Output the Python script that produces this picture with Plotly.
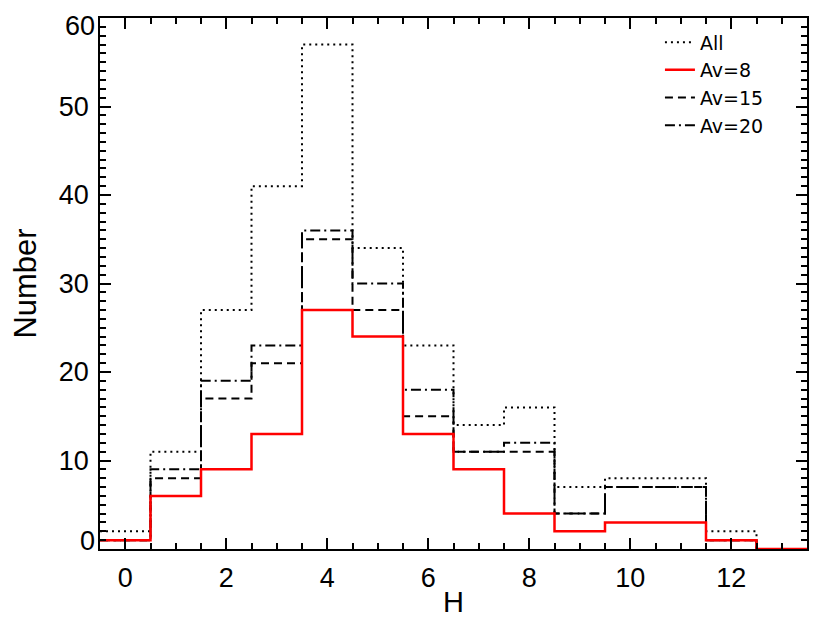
import plotly.graph_objects as go

# H bin centres (bin width 1)
h_bins = list(range(14))
all_counts = [2, 11, 27, 41, 57, 34, 23, 14, 16, 7, 8, 8, 2, 0]
av8_counts = [1, 6, 9, 13, 27, 24, 13, 9, 4, 2, 3, 3, 1, 0]
av15_counts = [1, 8, 17, 21, 35, 27, 15, 11, 11, 4, 7, 7, 1, 0]
av20_counts = [1, 9, 19, 23, 36, 30, 18, 11, 12, 4, 7, 7, 1, 0]
bin_width = 1.0

x_tick_vals = [0, 2, 4, 6, 8, 10, 12]
y_tick_vals = [0, 10, 20, 30, 40, 50, 60]
y_range = [0, 60]


def step_xy(centres, counts, width):
    edges = [c - width / 2 for c in centres] + [centres[-1] + width / 2]
    ys = list(counts) + [counts[-1]]
    return edges, ys


fig = go.Figure()

series = [
    ("All", all_counts, dict(color="black", width=2, dash="2px,4px"), 1),
    ("Av=20", av20_counts, dict(color="black", width=2, dash="10px,4px,2px,4px"), 4),
    ("Av=15", av15_counts, dict(color="black", width=2, dash="8px,5px"), 3),
    ("Av=8", av8_counts, dict(color="#ff0000", width=2.5), 2),
]
for name, counts, line, rank in series:
    xs, ys = step_xy(h_bins, counts, bin_width)
    fig.add_trace(go.Scatter(x=xs, y=ys, mode="lines", line_shape="hv",
                             name=name, line=line, legendrank=rank))

# empty helper traces so the label-only overlay axes get drawn
for ax in ("y2", "y3"):
    fig.add_trace(go.Scatter(x=[], y=[], yaxis=ax, showlegend=False,
                             hoverinfo="skip", mode="lines"))

tick_font = dict(family="Liberation Sans, Arial, sans-serif", size=27, color="black")
xtitle_font = dict(family="Liberation Sans, Arial, sans-serif", size=29, color="black")
ytitle_font = dict(family="Liberation Sans, Arial, sans-serif", size=31, color="black")

# inner y labels centred on their ticks; end labels nudged inward (as in the original)
inner_text = ["" if v in (y_range[0], y_range[1]) else str(v) for v in y_tick_vals]
top_label_nudge = 0.8   # axis units the top label sits below its tick
bottom_label_nudge = 1.0  # axis units the bottom label sits above its tick

label_axis = dict(overlaying="y", side="left", showgrid=False, zeroline=False,
                  showline=False, ticks="", tickfont=tick_font,
                  ticklabelstandoff=4, ticklabeloverflow="allow")

fig.update_layout(
    width=830, height=624,
    margin=dict(l=92, r=31, t=10, b=83, autoexpand=False),
    paper_bgcolor="white", plot_bgcolor="white",
    showlegend=True,
    legend=dict(x=0.792, y=0.99, xanchor="left", yanchor="top",
                bgcolor="rgba(0,0,0,0)", borderwidth=0,
                font=dict(family="DejaVu Sans, sans-serif", size=19, color="black")),
    yaxis2=dict(range=[y_range[0] + top_label_nudge, y_range[1] + top_label_nudge],
                tickvals=[y_range[1]], ticktext=[str(y_range[1])], **label_axis),
    yaxis3=dict(range=[y_range[0] - bottom_label_nudge, y_range[1] - bottom_label_nudge],
                tickvals=[y_range[0]], ticktext=[str(y_range[0])], **label_axis),
)

fig.update_xaxes(
    range=[-0.5, 13.5], tickvals=x_tick_vals, showgrid=False, zeroline=False,
    showline=True, linecolor="black", linewidth=1.5, mirror="ticks",
    ticks="inside", ticklen=11, tickwidth=1.5, tickcolor="black",
    minor=dict(dtick=0.5, ticks="inside", ticklen=6, tickwidth=1.5, tickcolor="black", showgrid=False),
    tickfont=tick_font, ticklabelstandoff=4, ticklabeloverflow="allow",
    title=dict(text="H", font=xtitle_font, standoff=0),
)
fig.update_layout(yaxis=dict(
    range=y_range, tickvals=y_tick_vals, ticktext=inner_text,
    showgrid=False, zeroline=False,
    showline=True, linecolor="black", linewidth=1.5, mirror="ticks",
    ticks="inside", ticklen=11, tickwidth=1.5, tickcolor="black",
    minor=dict(dtick=1, ticks="inside", ticklen=6, tickwidth=1.5, tickcolor="black", showgrid=False),
    tickfont=tick_font, ticklabelstandoff=4, ticklabeloverflow="allow",
    title=dict(text="Number", font=ytitle_font, standoff=13),
))

fig.write_html("out.html")
